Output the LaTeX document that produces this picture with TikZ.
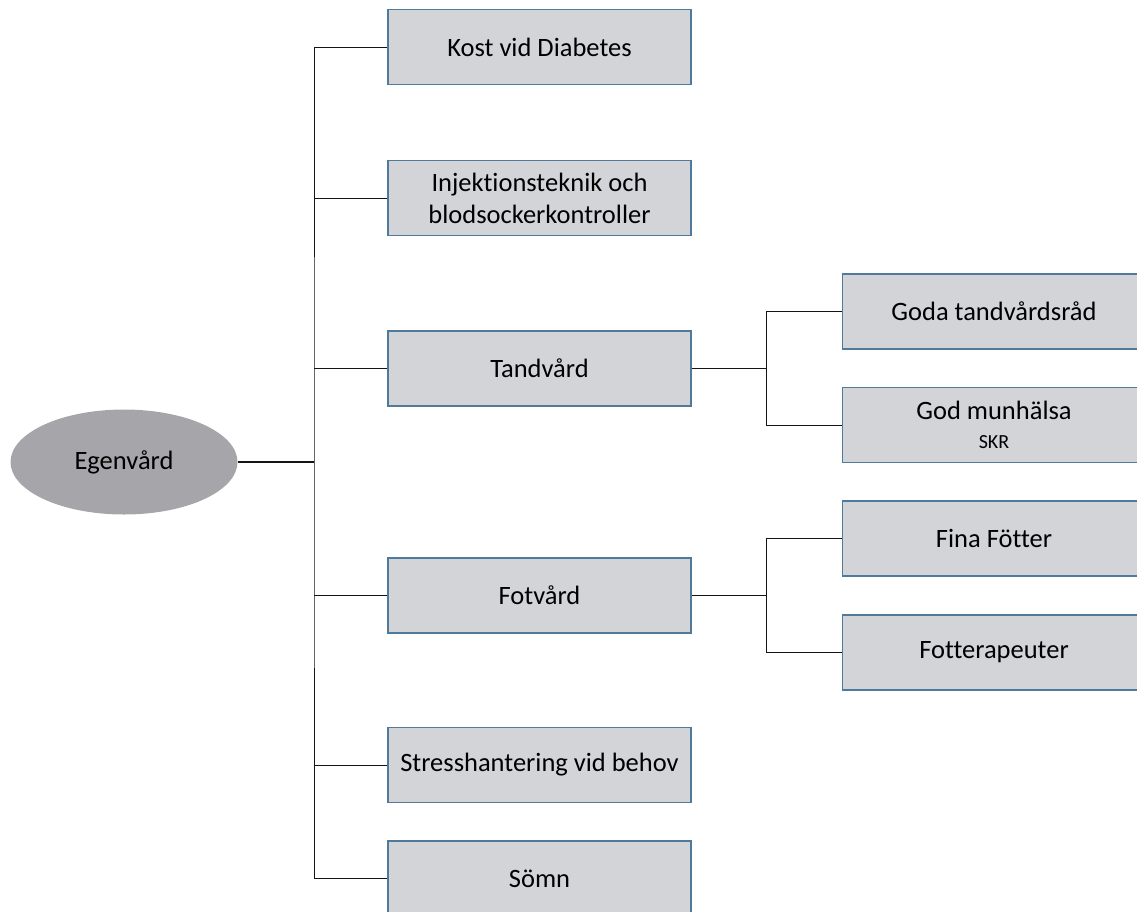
\documentclass[tikz,border=0pt]{standalone}
\usepackage{fontspec}
\setmainfont{Carlito}[Ligatures={NoCommon}]
\usetikzlibrary{shapes.geometric}
\definecolor{boxfill}{RGB}{211,212,216}
\definecolor{boxline}{RGB}{80,122,155}
\definecolor{ellfill}{RGB}{166,166,170}
\definecolor{conn}{RGB}{20,20,20}
\tikzset{
  box/.style={draw=boxline, line width=1.6pt, fill=boxfill, minimum width=303pt, minimum height=75pt,
    inner sep=0pt, align=center, font=\fontsize{26.5}{32}\selectfont, text=black},
  link/.style={draw=conn, line width=1pt},
}
\begin{document}
\begin{tikzpicture}[x=1pt,y=-1pt]
\useasboundingbox (0,0) rectangle (1137,911);
\clip (0,0) rectangle (1137,911);
\node[ellipse, fill=ellfill, minimum width=227pt, minimum height=105pt, inner sep=0pt, font=\fontsize{26.5}{30}\selectfont] (ego) at (124,462) {Egenvård};
\node[box] (kost) at (539.5,47) {Kost vid Diabetes};
\node[box] (inj) at (539.5,198) {Injektionsteknik och\\blodsockerkontroller};
\node[box] (tand) at (539.5,368.5) {Tandvård};
\node[box] (fot) at (539.5,595.5) {Fotvård};
\node[box] (stress) at (539.5,765) {Stresshantering vid behov};
\node[box] (somn) at (539.5,878.5) {Sömn};
\node[box] (goda) at (994,311.5) {Goda tandvårdsråd};
\node[box] (mun) at (994,425) {God munhälsa\\[-3pt]{\fontsize{20}{22}\selectfont SKR}};
\node[box] (fina) at (994,538.5) {Fina Fötter};
\node[box] (fter) at (994,652.5) {Fotterapeuter};
\coordinate (t) at (314,462);
\coordinate (t2) at (766,368.5);
\coordinate (t3) at (766,595.5);
\draw[link, line width=1.6pt] (ego.east) -- (t);
\draw[link] (kost.west) -| (t) |- (somn.west);
\draw[link] (inj.west) -- (inj.west -| t);
\draw[link] (tand.west) -- (tand.west -| t);
\draw[link] (fot.west) -- (fot.west -| t);
\draw[link] (stress.west) -- (stress.west -| t);
\draw[link] (tand.east) -- (t2);
\draw[link] (goda.west) -| (t2) |- (mun.west);
\draw[link] (fot.east) -- (t3);
\draw[link] (fina.west) -| (t3) |- (fter.west);
\end{tikzpicture}
\end{document}
